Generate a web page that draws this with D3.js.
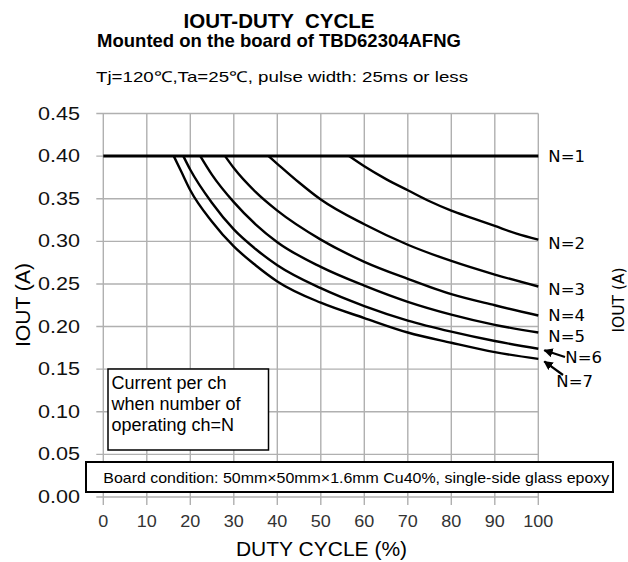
<!DOCTYPE html>
<html>
<head>
<meta charset="utf-8">
<script src="https://cdn.jsdelivr.net/npm/d3@7"></script>
<style>
  body { margin: 0; background: #fff; }
  svg { display: block; font-family: "Liberation Sans", Arial, sans-serif; }
  text { white-space: pre; }
</style>
</head>
<body>
<svg id="chart" width="628" height="562"></svg>
<script>
// values
const xTicks = [0, 10, 20, 30, 40, 50, 60, 70, 80, 90, 100];
const yTicks = [0, 0.05, 0.10, 0.15, 0.20, 0.25, 0.30, 0.35, 0.40, 0.45];

const seriesNames = ['N=1', 'N=2', 'N=3', 'N=4', 'N=5', 'N=6', 'N=7'];

const n1 = [[0, 0.400], [100, 0.400]];
const n2 = [[56.5, 0.400], [60, 0.388], [65, 0.373], [70, 0.360], [75, 0.347], [80, 0.336], [85, 0.327], [90, 0.318], [95, 0.309], [100, 0.302]];
const n3 = [[38, 0.400], [40, 0.391], [45, 0.369], [50, 0.349], [60, 0.320], [70, 0.296], [80, 0.277], [90, 0.261], [100, 0.247]];
const n4 = [[28, 0.400], [30, 0.386], [35, 0.358], [40, 0.336], [50, 0.302], [60, 0.276], [70, 0.256], [80, 0.238], [90, 0.225], [100, 0.213]];
const n5 = [[22.3, 0.400], [25, 0.378], [30, 0.346], [35, 0.320], [40, 0.299], [50, 0.270], [60, 0.248], [70, 0.229], [80, 0.214], [90, 0.202], [100, 0.193]];
const n6 = [[18.4, 0.400], [20, 0.384], [25, 0.345], [30, 0.314], [35, 0.291], [40, 0.272], [50, 0.245], [60, 0.224], [70, 0.207], [80, 0.194], [90, 0.183], [100, 0.174]];
const n7 = [[16.2, 0.400], [18, 0.381], [20, 0.360], [25, 0.323], [30, 0.294], [35, 0.272], [40, 0.253], [50, 0.228], [60, 0.210], [70, 0.193], [80, 0.181], [90, 0.170], [100, 0.162]];

const series = [n1, n2, n3, n4, n5, n6, n7];

// label placement (px) relative to each curve end
const labelDx = [10, 10, 10, 10, 10, 27, 18];
const labelDy = [6, 9, 8, 6, 9, 14, 28];

const svg = d3.select('#chart');
const plotL = 103.3, plotR = 538.3, plotT = 113.5, plotB = 497;

const x = d3.scaleLinear().domain([0, 100]).range([plotL, plotR]);
const y = d3.scaleLinear().domain([0, 0.45]).range([plotB, plotT]);

// titles
svg.append('text').attr('x', 279).attr('y', 27.5).attr('text-anchor', 'middle')
  .attr('font-weight', 'bold').attr('font-size', 20.5).text('IOUT-DUTY  CYCLE');
svg.append('text').attr('x', 279).attr('y', 46.5).attr('text-anchor', 'middle')
  .attr('font-weight', 'bold').attr('font-size', 18.5).text('Mounted on the board of TBD62304AFNG');
svg.append('text').attr('x', 96).attr('y', 81.5)
  .attr('font-size', 15).attr('textLength', 372).attr('lengthAdjust', 'spacingAndGlyphs')
  .text('Tj=120℃,Ta=25℃, pulse width: 25ms or less');

// grid
const grid = svg.append('g');
grid.selectAll('line.v').data(xTicks).join('line').attr('class', 'v')
  .attr('x1', d => x(d)).attr('x2', d => x(d))
  .attr('y1', plotT).attr('y2', plotB + 8)
  .attr('stroke', '#b0b0b0').attr('stroke-width', 1.4);
grid.selectAll('line.h').data(yTicks).join('line').attr('class', 'h')
  .attr('x1', plotL - 7).attr('x2', plotR)
  .attr('y1', d => y(d)).attr('y2', d => y(d))
  .attr('stroke', '#b0b0b0').attr('stroke-width', 1.4);

// y tick labels
svg.append('g').selectAll('text').data(yTicks).join('text')
  .attr('x', 80).attr('y', d => y(d) + 6).attr('text-anchor', 'end')
  .attr('font-size', 17.5).attr('fill', '#111')
  .attr('textLength', 42).attr('lengthAdjust', 'spacingAndGlyphs')
  .text(d => d3.format('.2f')(d));

// x tick labels
svg.append('g').selectAll('text').data(xTicks).join('text')
  .attr('x', d => x(d)).attr('y', 526.5).attr('text-anchor', 'middle')
  .attr('font-size', 16).attr('fill', '#333')
  .attr('textLength', d => String(d).length * 10).attr('lengthAdjust', 'spacingAndGlyphs')
  .text(d => d);

// axis titles
svg.append('text').attr('x', 321.5).attr('y', 556).attr('text-anchor', 'middle')
  .attr('font-size', 21).text('DUTY CYCLE (%)');
svg.append('text').attr('transform', 'translate(30,305) rotate(-90)')
  .attr('text-anchor', 'middle').attr('font-size', 20)
  .attr('textLength', 84).attr('lengthAdjust', 'spacingAndGlyphs').text('IOUT (A)');
svg.append('text').attr('transform', 'translate(624,300) rotate(-90)')
  .attr('text-anchor', 'middle').attr('font-size', 15.5)
  .attr('font-family', '"DejaVu Sans", sans-serif').text('IOUT (A)');

// curves
const line = d3.line().x(d => x(d[0])).y(d => y(d[1])).curve(d3.curveMonotoneX);
svg.append('g').selectAll('path').data(series).join('path')
  .attr('d', line).attr('fill', 'none').attr('stroke', '#000')
  .attr('stroke-width', (d, i) => i === 0 ? 3 : 2.4);

// curve labels
svg.append('g').selectAll('text').data(series).join('text')
  .attr('x', (d, i) => x(d[d.length - 1][0]) + labelDx[i])
  .attr('y', (d, i) => y(d[d.length - 1][1]) + labelDy[i])
  .attr('font-family', '"DejaVu Sans", sans-serif').attr('font-size', 16.5)
  .text((d, i) => seriesNames[i]);

// arrows for N=6, N=7
const defs = svg.append('defs');
defs.append('marker').attr('id', 'ah').attr('viewBox', '0 0 10 10')
  .attr('refX', 9).attr('refY', 5).attr('markerWidth', 4.2).attr('markerHeight', 4.2)
  .attr('orient', 'auto').append('path').attr('d', 'M0,0L10,5L0,10z').attr('fill', '#000');
const arrowFrom = [[565, 357], [563, 375]];
const arrowDy = [1.5, 2.5];
[n6, n7].forEach((s, i) => {
  const end = s[s.length - 1];
  svg.append('line')
    .attr('x1', arrowFrom[i][0]).attr('y1', arrowFrom[i][1])
    .attr('x2', x(end[0]) + 6).attr('y2', y(end[1]) + arrowDy[i])
    .attr('stroke', '#000').attr('stroke-width', 2.2).attr('marker-end', 'url(#ah)');
});

// note box
const note = svg.append('g');
note.append('rect').attr('x', 108).attr('y', 369).attr('width', 160.5).attr('height', 81)
  .attr('fill', '#fff').attr('stroke', '#000').attr('stroke-width', 1.5);
['Current per ch', 'when number of', 'operating ch=N'].forEach((t, i) => {
  note.append('text').attr('x', 111.5).attr('y', 388.5 + i * 21)
    .attr('font-size', 18).text(t);
});

// board condition box
svg.append('rect').attr('x', 86).attr('y', 462).attr('width', 527).attr('height', 30)
  .attr('fill', '#fff').attr('stroke', '#000').attr('stroke-width', 2);
svg.append('text').attr('x', 103.3).attr('y', 483).attr('font-size', 15)
  .attr('textLength', 506).attr('lengthAdjust', 'spacingAndGlyphs')
  .text('Board condition: 50mm×50mm×1.6mm Cu40%, single-side glass epoxy');
</script>
</body>
</html>
